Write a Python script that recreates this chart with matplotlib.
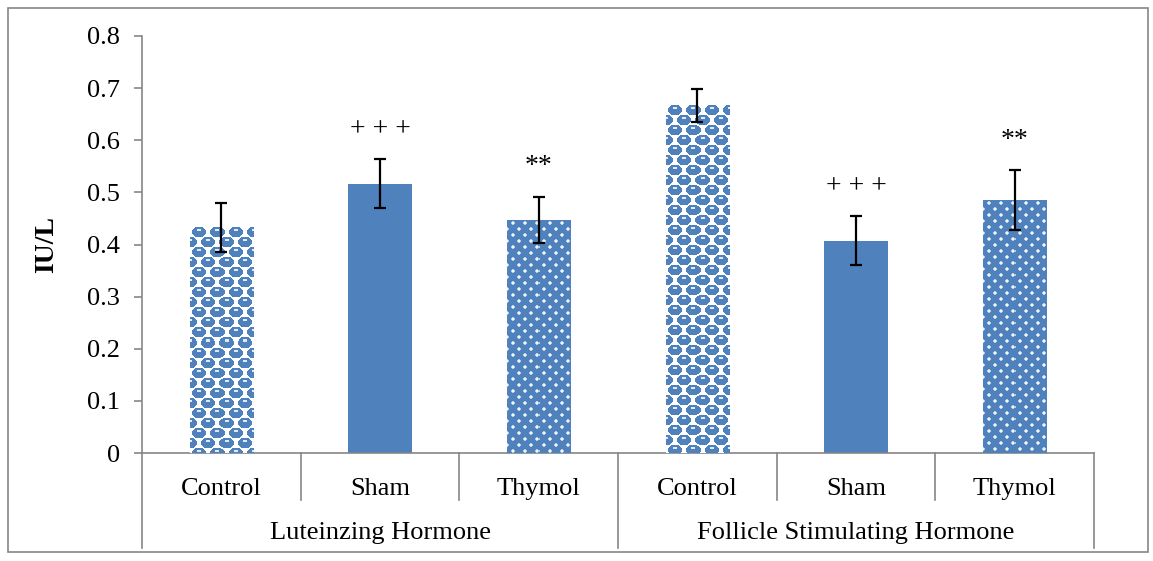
import numpy as np
import matplotlib.pyplot as plt
from matplotlib.patches import Rectangle
from matplotlib.lines import Line2D
import matplotlib.transforms as mtransforms

plt.rcParams['font.family'] = ['Liberation Serif', 'DejaVu Serif']

# data
groups = ['Luteinzing Hormone', 'Follicle Stimulating Hormone']
treatments = ['Control', 'Sham', 'Thymol']
lh_means = [0.432, 0.517, 0.447]
lh_err = [0.047, 0.047, 0.045]
fsh_means = [0.667, 0.407, 0.485]
fsh_err = [0.032, 0.047, 0.057]
lh_marks = ['', '+ + +', '**']
fsh_marks = ['', '+ + +', '**']

means = lh_means + fsh_means
errs = lh_err + fsh_err
marks = lh_marks + fsh_marks
labels = treatments * 2
fills = ['balls', 'solid', 'dots'] * 2

blue = '#4F81BD'
gray = '#868686'
fs = 19

fig = plt.figure(figsize=(11.53, 5.61), dpi=100)
ax = fig.add_axes([142 / 1153, 108 / 561, 952 / 1153, 417 / 561])
x = np.arange(len(means))
width = 0.4

bars = ax.bar(x, means, width, color=blue, zorder=2, linewidth=0)
ax.errorbar(x, means, yerr=errs, fmt='none', ecolor='black', elinewidth=1.6,
            capsize=4.5, capthick=1.6, zorder=4)

ax.set_xlim(-0.5, 5.5)
ax.set_ylim(0, 0.8)

# pixels per data unit, to build the pattern fills at screen resolution
ppx = ax.get_position().width * fig.get_figwidth() * fig.dpi / 6
ppy = ax.get_position().height * fig.get_figheight() * fig.dpi / 0.8


def texture(kind, w, h):
    yy, xx = np.mgrid[0:h, 0:w].astype(float) + 0.5
    img = np.ones((h, w, 3))
    b = np.array([0x4F, 0x81, 0xBD]) / 255.0
    if kind == 'balls':
        P, R = 18.0, 10.0
    else:
        P, R = 12.0, 6.0
    row = np.floor(yy / R)
    shift = 0.5 * (row % 2)
    cx = (np.floor(xx / P - shift) + 0.5 + shift) * P
    cy = (row + 0.5) * R
    if kind == 'balls':
        mask = ((xx - cx) / 6.9) ** 2 + ((yy - cy) / 5.4) ** 2 < 1
        img[mask] = b
        hl = ((xx - cx) / 2.2) ** 2 + ((yy - cy + 2.0) / 1.0) ** 2 < 1
        img[hl & mask] = np.array([0.88, 0.92, 0.97])
    else:
        img[:] = b
        d = np.hypot(xx - cx, yy - cy)
        img[d < 2.0] = b * 0.4 + 0.6
        img[d < 1.2] = np.array([0.95, 0.96, 0.99])
    return img


for bar, kind in zip(bars, fills):
    if kind == 'solid':
        continue
    bar.set_facecolor('white')
    x0 = bar.get_x()
    w = bar.get_width()
    h = bar.get_height()
    img = texture(kind, max(int(round(w * ppx)), 1), max(int(round(h * ppy)), 1))
    ax.imshow(img, extent=(x0, x0 + w, 0, h), origin='upper', aspect='auto',
              interpolation='nearest', zorder=3)

ax.set_xlim(-0.5, 5.5)
ax.set_ylim(0, 0.8)

for xi, m, e, t in zip(x, means, errs, marks):
    if t:
        ax.text(xi, m + e + 0.057, t, ha='center', va='center', fontsize=fs + 1)

# axes styling
for s in ['top', 'right']:
    ax.spines[s].set_visible(False)
for s in ['left', 'bottom']:
    ax.spines[s].set_color(gray)
    ax.spines[s].set_linewidth(1.2)
ax.set_yticks(np.arange(0, 0.81, 0.1))
ax.set_yticklabels(['0'] + ['%.1f' % v for v in np.arange(0.1, 0.81, 0.1)])
ax.tick_params(axis='y', direction='out', length=6, width=1.2, color=gray,
               labelsize=fs, pad=10)
ax.set_xticks(x)
ax.set_xticklabels(labels)
ax.tick_params(axis='x', length=0, labelsize=fs, pad=18)
ax.set_ylabel('IU/L', fontsize=20, fontweight='bold', labelpad=20)

# category separators below the axis
tr = mtransforms.blended_transform_factory(ax.transData, ax.transAxes)
for xb in np.arange(-0.5, 5.6, 1.0):
    long_line = xb in (-0.5, 2.5, 5.5)
    ybot = -0.228 if long_line else -0.113
    ax.add_line(Line2D([xb, xb], [0, ybot], transform=tr, color=gray,
                       linewidth=1.2, clip_on=False))
for gi, g in enumerate(groups):
    ax.text(1 + 3 * gi, -0.192, g, transform=tr, ha='center', va='center',
            fontsize=fs)

# outer chart border
fig.patches.append(Rectangle((8 / 1153, 9 / 561), 1140 / 1153, 544 / 561,
                             transform=fig.transFigure, fill=False,
                             edgecolor=gray, linewidth=1.2))

fig.savefig('out.png', dpi=100)
